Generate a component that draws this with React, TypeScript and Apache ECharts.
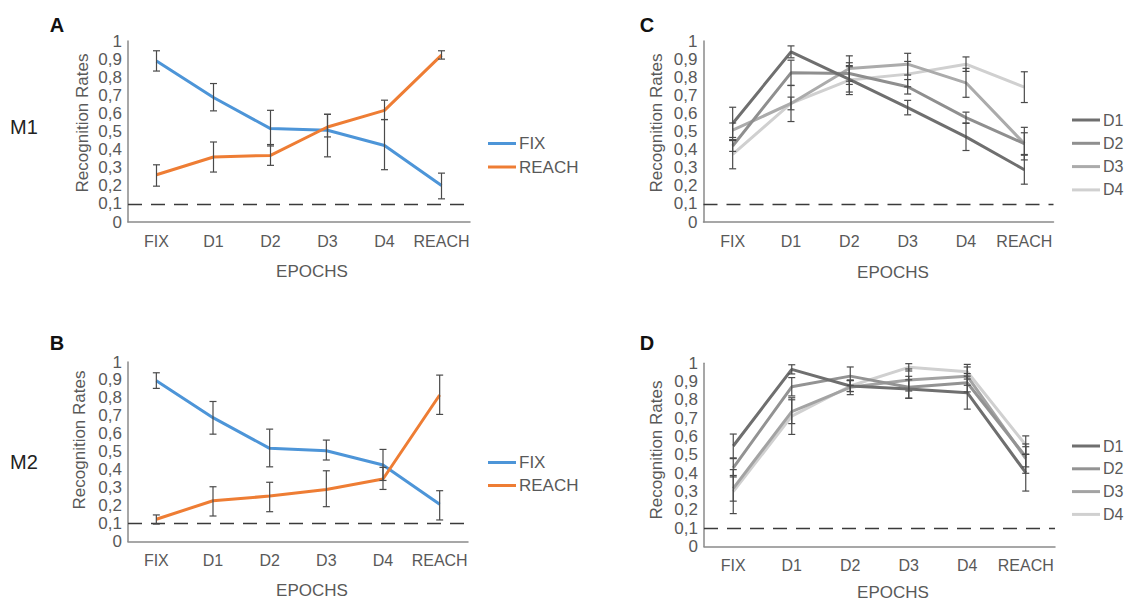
import React, { useEffect, useRef } from "react";
import * as echarts from "echarts";

const categories = ["FIX", "D1", "D2", "D3", "D4", "REACH"];
const yTicks = [0, 0.1, 0.2, 0.3, 0.4, 0.5, 0.6, 0.7, 0.8, 0.9, 1];
const chanceLevel = 0.1;

// Panel A (M1)
const aFix = [0.889, 0.688, 0.516, 0.507, 0.423, 0.202];
const aFixLow = [0.834, 0.614, 0.42, 0.36, 0.289, 0.128];
const aFixHigh = [0.946, 0.765, 0.617, 0.595, 0.566, 0.27];
const aReach = [0.261, 0.359, 0.368, 0.525, 0.617, 0.922];
const aReachLow = [0.198, 0.276, 0.313, 0.47, 0.566, 0.9];
const aReachHigh = [0.316, 0.442, 0.428, 0.595, 0.673, 0.946];

// Panel B (M2)
const bFix = [0.895, 0.69, 0.519, 0.506, 0.426, 0.207];
const bFixLow = [0.853, 0.598, 0.416, 0.454, 0.34, 0.12];
const bFixHigh = [0.94, 0.78, 0.626, 0.565, 0.513, 0.283];
const bReach = [0.124, 0.227, 0.253, 0.29, 0.348, 0.816];
const bReachLow = [0.097, 0.142, 0.166, 0.194, 0.29, 0.708];
const bReachHigh = [0.148, 0.305, 0.33, 0.394, 0.413, 0.927];

// Panel C (M1, directions)
const cD1 = [0.544, 0.94, 0.788, 0.632, 0.47, 0.289];
const cD1Err = [0.09, 0.033, 0.07, 0.04, 0.075, 0.08];
const cD2 = [0.42, 0.824, 0.82, 0.747, 0.577, 0.433];
const cD2Err = [0.03, 0.07, 0.06, 0.04, 0.03, 0.06];
const cD3 = [0.507, 0.655, 0.848, 0.872, 0.769, 0.433];
const cD3Err = [0.04, 0.1, 0.07, 0.06, 0.08, 0.09];
const cD4 = [0.374, 0.655, 0.784, 0.817, 0.872, 0.745];
const cD4Err = [0.08, 0.035, 0.08, 0.07, 0.04, 0.085];

// Panel D (M2, directions)
const dD1 = [0.549, 0.967, 0.876, 0.86, 0.84, 0.403];
const dD1Err = [0.065, 0.025, 0.03, 0.05, 0.09, 0.1];
const dD2 = [0.43, 0.872, 0.93, 0.869, 0.894, 0.49];
const dD2Err = [0.05, 0.05, 0.05, 0.06, 0.05, 0.055];
const dD3 = [0.318, 0.736, 0.869, 0.909, 0.93, 0.48];
const dD3Err = [0.07, 0.065, 0.04, 0.06, 0.05, 0.08];
const dD4 = [0.3, 0.712, 0.876, 0.978, 0.954, 0.554];
const dD4Err = [0.12, 0.1, 0.03, 0.02, 0.04, 0.05];

const BLUE = "#4d95d8";
const ORANGE = "#ee7d34";
const GRAYS_C = ["#6f6f6f", "#8f8f8f", "#ababab", "#d0d0d0"];
const GRAYS_D = ["#6f6f6f", "#939393", "#a3a3a3", "#d0d0d0"];
const TEXT = "#595959";
const FONT = "'Liberation Sans', Arial, sans-serif";

const grids = [
  { left: 128, top: 41, width: 342, height: 181 },
  { left: 128, top: 362, width: 340, height: 179.5 },
  { left: 703.5, top: 41, width: 350, height: 181 },
  { left: 704, top: 363.3, width: 351, height: 183.3 },
];

function errData(low: number[], high: number[]) {
  return low.map((l, i) => [i, l, high[i]]);
}
function errFromPm(vals: number[], err: number[]) {
  return vals.map((v, i) => [i, v - err[i], v + err[i]]);
}

const renderErr = (params: any, api: any) => {
  const i = api.value(0);
  const lo = api.coord([i, api.value(1)]);
  const hi = api.coord([i, api.value(2)]);
  const w = 3.5;
  const style = { stroke: "#4a4a4a", lineWidth: 1.2 };
  return {
    type: "group",
    children: [
      { type: "line", shape: { x1: lo[0], y1: lo[1], x2: hi[0], y2: hi[1] }, style },
      { type: "line", shape: { x1: lo[0] - w, y1: lo[1], x2: lo[0] + w, y2: lo[1] }, style },
      { type: "line", shape: { x1: hi[0] - w, y1: hi[1], x2: hi[0] + w, y2: hi[1] }, style },
    ],
  };
};

export default function App() {
  const ref = useRef<HTMLDivElement>(null);
  useEffect(() => {
    if (!ref.current) return;
    const chart = echarts.init(ref.current, null, { renderer: "svg" });

    const xAxes = grids.map((_, gi) => ({
      type: "category",
      gridIndex: gi,
      data: categories,
      boundaryGap: true,
      axisLine: { lineStyle: { color: "#8a8a8a", width: 1.5 } },
      axisTick: { show: false },
      axisLabel: { color: TEXT, fontSize: 16, fontFamily: FONT, margin: 11, interval: 0 },
      splitLine: { show: false },
    }));
    const yAxes = grids.map((_, gi) => ({
      type: "value",
      gridIndex: gi,
      min: 0,
      max: 1,
      interval: 0.1,
      axisLine: { show: true, lineStyle: { color: "#8a8a8a", width: 1.5 } },
      axisTick: { show: false },
      splitLine: { show: false },
      axisLabel: {
        color: TEXT,
        fontSize: 17,
        fontFamily: FONT,
        margin: 6,
        formatter: (v: number) => {
          const t = yTicks.find((k) => Math.abs(k - v) < 1e-6);
          const n = t === undefined ? v : t;
          return n === 0 || n === 1 ? String(n) : n.toFixed(1).replace(".", ",");
        },
      },
    }));

    const chanceMark = {
      silent: true,
      symbol: "none",
      label: { show: false },
      lineStyle: { color: "#3a3a3a", type: [14, 9], width: 1.3 },
      data: [{ yAxis: chanceLevel }],
    };

    const lineSeries = (name: string, data: number[], color: string, gi: number, mark = false) => ({
      type: "line",
      name,
      xAxisIndex: gi,
      yAxisIndex: gi,
      data,
      symbol: "none",
      showSymbol: false,
      lineStyle: { color, width: 3 },
      itemStyle: { color },
      z: 3,
      ...(mark ? { markLine: chanceMark } : {}),
    });
    const errSeries = (data: number[][], gi: number) => ({
      type: "custom",
      xAxisIndex: gi,
      yAxisIndex: gi,
      data,
      renderItem: renderErr,
      z: 5,
      silent: true,
    });

    const series: any[] = [
      lineSeries("FIX", aFix, BLUE, 0, true),
      lineSeries("REACH", aReach, ORANGE, 0),
      errSeries(errData(aFixLow, aFixHigh), 0),
      errSeries(errData(aReachLow, aReachHigh), 0),

      lineSeries("FIX", bFix, BLUE, 1, true),
      lineSeries("REACH", bReach, ORANGE, 1),
      errSeries(errData(bFixLow, bFixHigh), 1),
      errSeries(errData(bReachLow, bReachHigh), 1),

      lineSeries("D4", cD4, GRAYS_C[3], 2, true),
      lineSeries("D3", cD3, GRAYS_C[2], 2),
      lineSeries("D2", cD2, GRAYS_C[1], 2),
      lineSeries("D1", cD1, GRAYS_C[0], 2),
      errSeries(errFromPm(cD1, cD1Err), 2),
      errSeries(errFromPm(cD2, cD2Err), 2),
      errSeries(errFromPm(cD3, cD3Err), 2),
      errSeries(errFromPm(cD4, cD4Err), 2),

      lineSeries("D4 ", dD4, GRAYS_D[3], 3, true),
      lineSeries("D3 ", dD3, GRAYS_D[2], 3),
      lineSeries("D2 ", dD2, GRAYS_D[1], 3),
      lineSeries("D1 ", dD1, GRAYS_D[0], 3),
      errSeries(errFromPm(dD1, dD1Err), 3),
      errSeries(errFromPm(dD2, dD2Err), 3),
      errSeries(errFromPm(dD3, dD3Err), 3),
      errSeries(errFromPm(dD4, dD4Err), 3),
    ];

    const legendBase = {
      orient: "vertical",
      icon: "rect",
      itemWidth: 28,
      itemHeight: 3,
      itemGap: 6,
      padding: 0,
      selectedMode: false,
      textStyle: {
        color: TEXT,
        fontSize: 17,
        fontFamily: FONT,
        padding: [0, 0, 0, -2],
      },
    };
    const legends = [
      { ...legendBase, left: 488, top: 135, itemGap: 6.5, data: ["FIX", "REACH"] },
      { ...legendBase, left: 488, top: 454, data: ["FIX", "REACH"] },
      {
        ...legendBase,
        left: 1072,
        top: 112,
        itemGap: 7.3,
        textStyle: { ...legendBase.textStyle, fontSize: 16 },
        data: ["D1", "D2", "D3", "D4"],
      },
      {
        ...legendBase,
        left: 1072,
        top: 438,
        itemGap: 6.8,
        textStyle: { ...legendBase.textStyle, fontSize: 16 },
        data: ["D1 ", "D2 ", "D3 ", "D4 "],
        formatter: (n: string) => n.trim(),
      },
    ];

    const txt = (text: string, x: number, y: number, size: number, bold = false, color = "#111", rotation = 0) => ({
      type: "text",
      x,
      y,
      rotation,
      silent: true,
      style: {
        text,
        fill: color,
        fontSize: size,
        fontWeight: bold ? "bold" : "normal",
        fontFamily: FONT,
        align: "center",
        verticalAlign: "middle",
      },
    });

    chart.setOption({
      animation: false,
      backgroundColor: "#ffffff",
      grid: grids.map((g) => ({ ...g, containLabel: false })),
      xAxis: xAxes,
      yAxis: yAxes,
      legend: legends,
      series,
      graphic: [
        txt("A", 57, 25, 20, true),
        txt("B", 57, 343, 20, true),
        txt("C", 647, 25, 20, true),
        txt("D", 647, 343, 20, true),
        txt("M1", 24, 127, 20, false, "#222"),
        txt("M2", 24, 462, 20, false, "#222"),
        txt("Recognition Rates", 82, 123, 17, false, TEXT, Math.PI / 2),
        txt("Recognition Rates", 79, 440, 17, false, TEXT, Math.PI / 2),
        txt("Recognition Rates", 656, 123, 17, false, TEXT, Math.PI / 2),
        txt("Recognition Rates", 656, 450, 17, false, TEXT, Math.PI / 2),
        txt("EPOCHS", 312, 271, 17, false, TEXT),
        txt("EPOCHS", 312, 590, 17, false, TEXT),
        txt("EPOCHS", 893, 272, 17, false, TEXT),
        txt("EPOCHS", 893, 592, 17, false, TEXT),
      ],
    });
    return () => chart.dispose();
  }, []);
  return (
    <div
      ref={ref}
      style={{ position: "fixed", left: 0, top: 0, width: 1127, height: 602, background: "#fff" }}
    />
  );
}
